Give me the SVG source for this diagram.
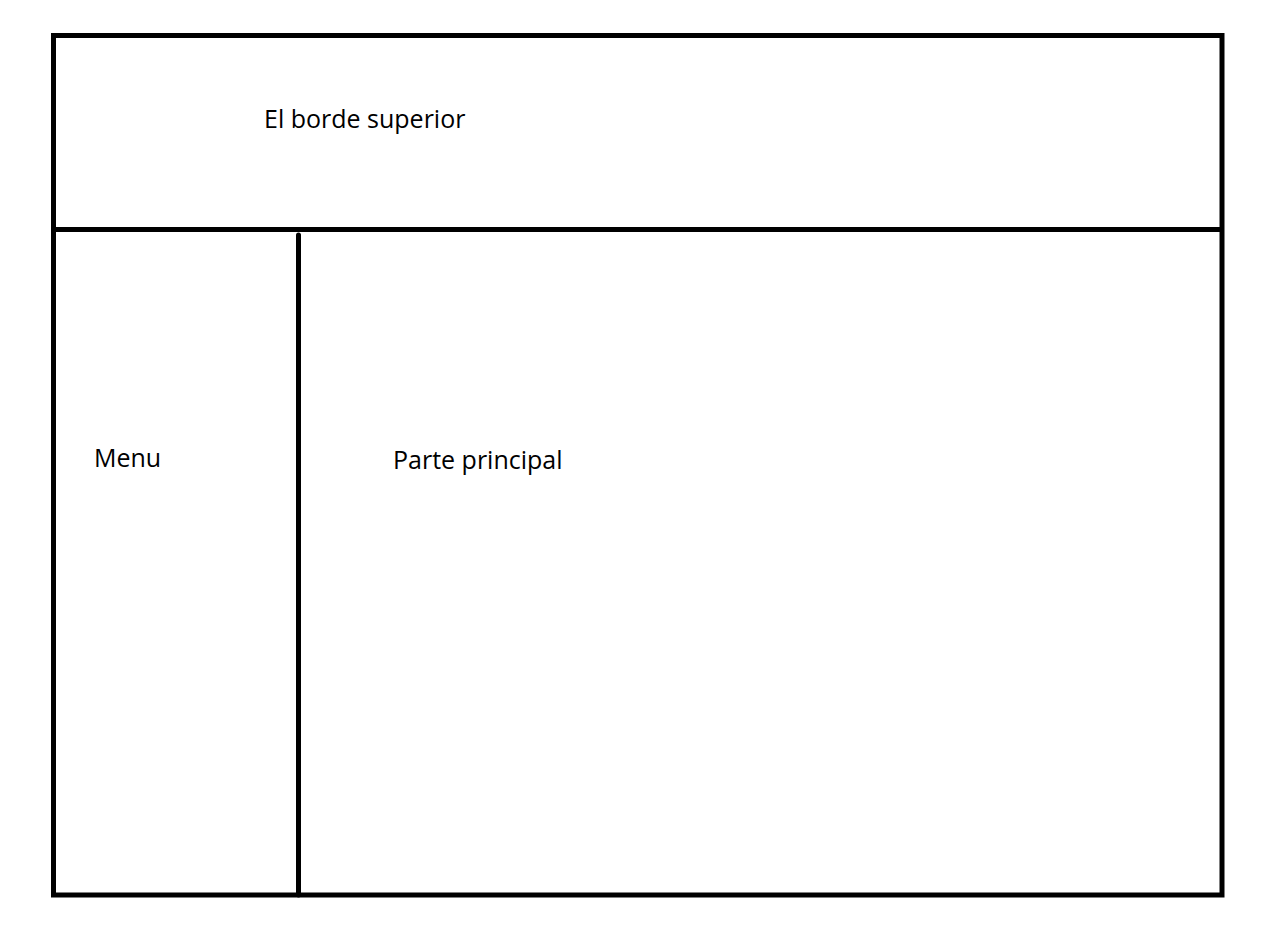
<svg xmlns="http://www.w3.org/2000/svg" width="1276" height="932" viewBox="0 0 1276 932">
<style>
.ln{stroke:#000;stroke-width:5;fill:none}
.t{font-family:"Open Sans","Noto Sans","Liberation Sans",sans-serif;font-size:25px;fill:#000}
</style>
<rect width="1276" height="932" fill="#fff"/>
<g id="frame"><rect class="ln" x="53.5" y="35.5" width="1168.5" height="859.5"/></g>
<g id="connectors">
<line class="ln" x1="53.5" y1="229.5" x2="1222" y2="229.5"/>
<line class="ln" x1="298.5" y1="235" x2="298.5" y2="895" stroke-linecap="round"/>
</g>
<g id="header"><text class="t" x="264" y="128">El borde superior</text></g>
<g id="menu"><text class="t" x="94" y="467">Menu</text></g>
<g id="main"><text class="t" x="393" y="469">Parte principal</text></g>
</svg>
